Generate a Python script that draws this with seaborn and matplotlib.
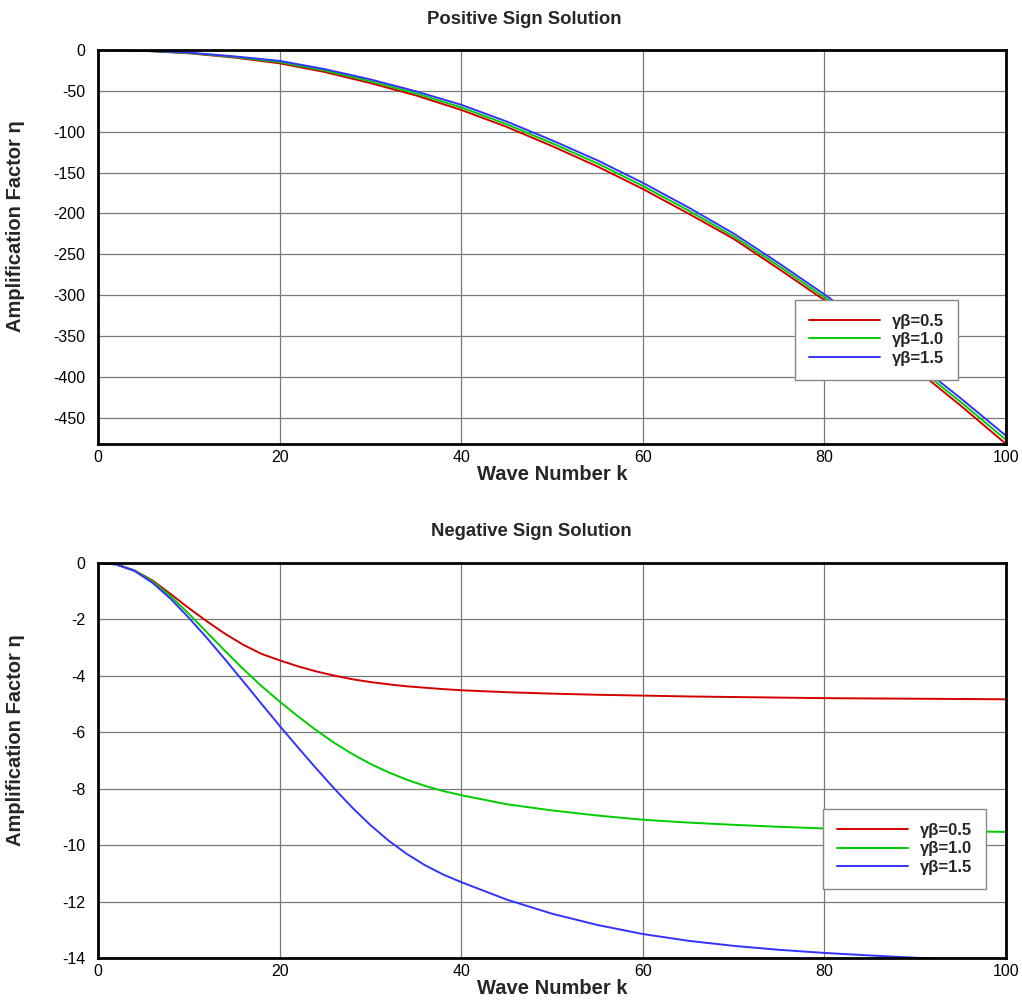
import matplotlib
matplotlib.use("Agg")
import matplotlib.pyplot as plt
import seaborn as sns
import pandas as pd

# Wave numbers and amplification factors for the two sign solutions
k_pos = [0, 5, 10, 15, 20, 25, 30, 35, 40, 45, 50, 55, 60, 65, 70, 75, 80, 85, 90, 95, 100]
pos_05 = [0, -1.0, -4.0, -9.2, -16.3, -27.0, -40.5, -55.5, -73.3, -94.0, -117.5, -142.5,
          -170.0, -200.0, -231.0, -268.0, -306.0, -347.0, -390.0, -435.0, -482.0]
pos_10 = [0, -0.9, -3.6, -8.5, -14.8, -25.2, -38.2, -53.0, -70.2, -90.8, -114.0, -138.7,
          -166.3, -196.2, -228.0, -264.5, -302.5, -343.0, -386.0, -430.5, -477.0]
pos_15 = [0, -0.8, -3.2, -7.8, -13.3, -23.5, -36.0, -50.5, -67.0, -87.5, -110.5, -135.0,
          -162.5, -192.5, -224.5, -261.0, -299.0, -339.0, -382.0, -426.0, -472.0]

k_neg = [0, 2, 4, 6, 8, 10, 12, 14, 16, 18, 20, 22, 24, 26, 28, 30, 32, 34, 36, 38, 40,
         45, 50, 55, 60, 65, 70, 75, 80, 85, 90, 95, 100]
neg_05 = [0, -0.05, -0.26, -0.62, -1.10, -1.60, -2.07, -2.51, -2.90, -3.22, -3.45,
          -3.66, -3.84, -3.99, -4.12, -4.22, -4.30, -4.37, -4.42, -4.47, -4.51,
          -4.58, -4.63, -4.67, -4.70, -4.73, -4.75, -4.77, -4.79, -4.80, -4.81, -4.82, -4.83]
neg_10 = [0, -0.05, -0.27, -0.65, -1.18, -1.80, -2.46, -3.12, -3.76, -4.36, -4.91,
          -5.43, -5.92, -6.37, -6.77, -7.12, -7.42, -7.68, -7.90, -8.08, -8.23,
          -8.55, -8.77, -8.95, -9.10, -9.20, -9.28, -9.35, -9.41, -9.45, -9.48, -9.51, -9.53]
neg_15 = [0, -0.05, -0.28, -0.70, -1.27, -1.94, -2.66, -3.42, -4.20, -4.99, -5.77,
          -6.53, -7.27, -7.99, -8.67, -9.29, -9.84, -10.31, -10.71, -11.04, -11.31,
          -11.93, -12.43, -12.83, -13.15, -13.39, -13.57, -13.71, -13.82, -13.91, -13.99,
          -14.06, -14.12]

labels = ["γβ=0.5", "γβ=1.0", "γβ=1.5"]
colors = ["#d40000", "#00cc00", "#3333ff"]

x_ticks = [0, 20, 40, 60, 80, 100]
pos_yticks = [0, -50, -100, -150, -200, -250, -300, -350, -400, -450]
neg_yticks = [0, -2, -4, -6, -8, -10, -12, -14]


def long_frame(k, series):
    rows = []
    for lab, vals in zip(labels, series):
        for kk, v in zip(k, vals):
            rows.append({"k": kk, "eta": v, "case": lab})
    return pd.DataFrame(rows)


df_pos = long_frame(k_pos, [pos_05, pos_10, pos_15])
df_neg = long_frame(k_neg, [neg_05, neg_10, neg_15])

sns.set_theme(style="white")
plt.rcParams["font.family"] = ["Liberation Sans", "DejaVu Sans"]
plt.rcParams["axes.unicode_minus"] = False

fig = plt.figure(figsize=(10.22, 10.0), dpi=100)
ax1 = fig.add_axes([0.0959, 0.556, 0.8885, 0.394])
ax2 = fig.add_axes([0.0959, 0.042, 0.8885, 0.395])

palette = dict(zip(labels, colors))


def style_axes(ax, df, yticks, ylim, leg_anchor, label_y):
    sns.lineplot(data=df, x="k", y="eta", hue="case", palette=palette, ax=ax,
                 linewidth=1.4, estimator=None, sort=False)
    ax.set_xlim(0, 100)
    ax.set_ylim(*ylim)
    ax.set_xticks(x_ticks)
    ax.set_yticks(yticks)
    ax.grid(True, color="#7a7a7a", linewidth=0.9)
    ax.set_axisbelow(True)
    for sp in ax.spines.values():
        sp.set_color("black")
        sp.set_linewidth(2.0)
        sp.set_visible(True)
    ax.tick_params(axis="both", length=0, labelsize=11.5, colors="black")
    ax.tick_params(axis="y", pad=9)
    ax.tick_params(axis="x", pad=4)
    ax.set_xlabel("Wave Number k", fontsize=14.5, fontweight="bold", labelpad=0)
    ax.set_ylabel("Amplification Factor η", fontsize=14.5, fontweight="bold")
    ax.yaxis.set_label_coords(-0.080, label_y)
    handles, labs = ax.get_legend_handles_labels()
    leg = ax.legend(handles, labs, loc="upper left", bbox_to_anchor=leg_anchor,
                    frameon=True, fancybox=False, shadow=False, framealpha=1,
                    edgecolor="#888888", prop={"size": 12, "weight": "bold"},
                    handlelength=4.26, handletextpad=0.72, labelspacing=0.2,
                    borderpad=0.84, borderaxespad=0)
    leg.get_frame().set_linewidth(1.0)


style_axes(ax1, df_pos, pos_yticks, (-482, 0), (0.7676, 0.3655), 0.552)
style_axes(ax2, df_neg, neg_yticks, (-14, 0), (0.798, 0.377), 0.552)

fig.text(0.513, 0.980, "Positive Sign Solution", ha="center", va="center",
         fontsize=13.3, fontweight="bold")
fig.text(0.520, 0.468, "Negative Sign Solution", ha="center", va="center",
         fontsize=13.3, fontweight="bold")

fig.savefig("out.png", dpi=100, facecolor="white")
